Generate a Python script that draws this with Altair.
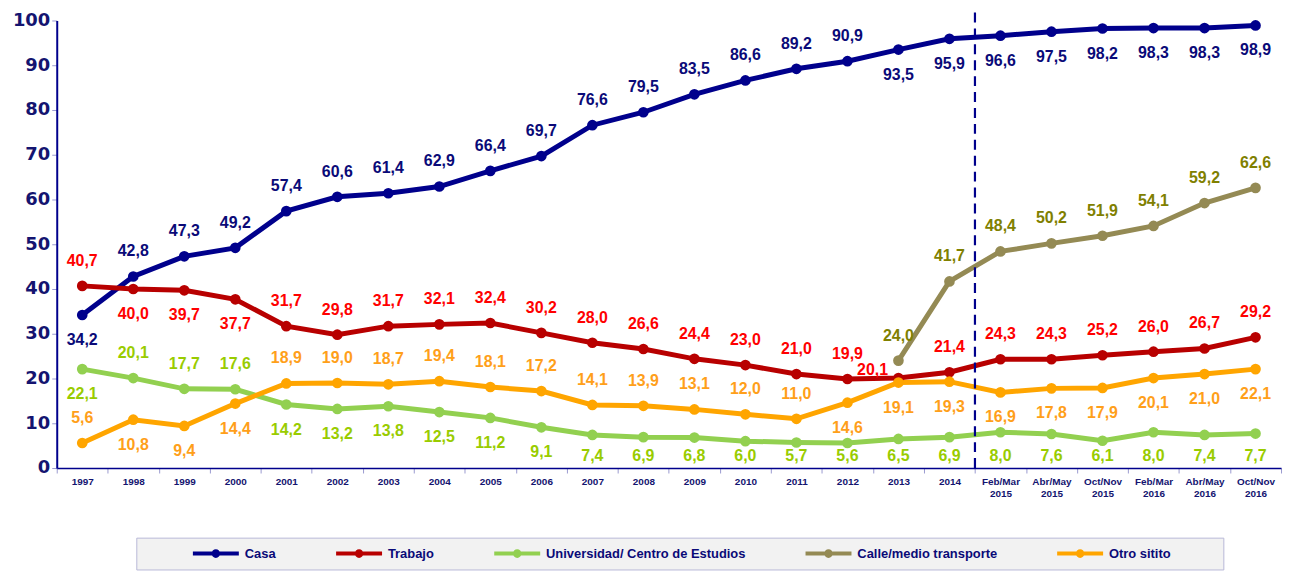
import altair as alt
import pandas as pd

categories = ["1997", "1998", "1999", "2000", "2001", "2002", "2003", "2004", "2005",
              "2006", "2007", "2008", "2009", "2010", "2011", "2012", "2013", "2014",
              "Feb/Mar 2015", "Abr/May 2015", "Oct/Nov 2015", "Feb/Mar 2016",
              "Abr/May 2016", "Oct/Nov 2016"]

casa = [34.2, 42.8, 47.3, 49.2, 57.4, 60.6, 61.4, 62.9, 66.4, 69.7, 76.6, 79.5,
        83.5, 86.6, 89.2, 90.9, 93.5, 95.9, 96.6, 97.5, 98.2, 98.3, 98.3, 98.9]
trabajo = [40.7, 40.0, 39.7, 37.7, 31.7, 29.8, 31.7, 32.1, 32.4, 30.2, 28.0, 26.6,
           24.4, 23.0, 21.0, 19.9, 20.1, 21.4, 24.3, 24.3, 25.2, 26.0, 26.7, 29.2]
universidad = [22.1, 20.1, 17.7, 17.6, 14.2, 13.2, 13.8, 12.5, 11.2, 9.1, 7.4, 6.9,
               6.8, 6.0, 5.7, 5.6, 6.5, 6.9, 8.0, 7.6, 6.1, 8.0, 7.4, 7.7]
calle = [None] * 16 + [24.0, 41.7, 48.4, 50.2, 51.9, 54.1, 59.2, 62.6]
otro = [5.6, 10.8, 9.4, 14.4, 18.9, 19.0, 18.7, 19.4, 18.1, 17.2, 14.1, 13.9,
        13.1, 12.0, 11.0, 14.6, 19.1, 19.3, 16.9, 17.8, 17.9, 20.1, 21.0, 22.1]

# label placement: a = above, b = below, l = left of point
casa_side = ["b"] + ["a"] * 15 + ["b"] * 8
trabajo_side = ["a", "b", "b", "b"] + ["a"] * 12 + ["l", "a"] + ["a"] * 6
universidad_side = ["b", "a", "a", "a"] + ["b"] * 20
calle_side = ["a"] * 24
otro_side = ["a", "b", "b", "b"] + ["a"] * 11 + ["b"] * 9

series_names = ["Casa", "Trabajo", "Universidad/ Centro de Estudios",
                "Calle/medio transporte", "Otro sitito"]
line_colors = ["#00008C", "#B80000", "#92D050", "#948A54", "#FFA500"]
label_colors = ["#0A0A78", "#FF0000", "#99CC00", "#808000", "#FF9F1A"]

rows = []
for name, vals, sides in zip(series_names,
                             [casa, trabajo, universidad, calle, otro],
                             [casa_side, trabajo_side, universidad_side, calle_side, otro_side]):
    for c, v, s in zip(categories, vals, sides):
        if v is not None:
            rows.append({"series": name, "cat": c, "value": v, "side": s})
df = pd.DataFrame(rows)

FONT = "Liberation Sans"

x_scale = alt.Scale(type="band", domain=categories, paddingInner=0, paddingOuter=0)
y_scale = alt.Scale(domain=[0, 100], nice=False)

x_enc = alt.X("cat:N", sort=categories, scale=x_scale, title=None,
              axis=alt.Axis(labelExpr="split(datum.label, ' ')", labelAngle=0,
                            labelFont=FONT, labelFontSize=10, labelFontWeight="bold",
                            labelColor="#141470", labelLineHeight=12, labelBaseline="top",
                            labelPadding=4, tickBand="extent", tickSize=5,
                            tickColor="#9A9AD0", domainColor="#00008C", domainWidth=1.5,
                            grid=False))
y_enc = alt.Y("value:Q", scale=y_scale, title=None,
              axis=alt.Axis(values=list(range(0, 101, 10)), labelFont="DejaVu Sans",
                            labelFontSize=18, labelFontWeight="bold", labelColor="#141470",
                            labelPadding=2, tickSize=5, tickColor="#9A9AD0",
                            domainColor="#00008C", domainWidth=2, grid=False))

color_scale = alt.Scale(domain=series_names, range=line_colors)
label_scale = alt.Scale(domain=series_names, range=label_colors)

# line-with-dot legend glyph (wider than its nominal size box)
legend_path = ("M-3.3,-0.29H3.3V0.29H-3.3Z "
               "M0.62,0A0.62,0.62 0 1,1 -0.62,0A0.62,0.62 0 1,1 0.62,0Z")

base = alt.Chart(df)

lines = base.mark_line(strokeWidth=5).encode(
    x=x_enc, y=y_enc,
    stroke=alt.Stroke("series:N", scale=color_scale, legend=None),
)

points = base.mark_point(filled=True, size=115, opacity=1).encode(
    x=x_enc, y=y_enc,
    color=alt.Color("series:N", scale=color_scale,
                    legend=alt.Legend(
                        title="\u00a0", titleOrient="right", titlePadding=44,
                        titleFontSize=12,
                        orient="none", legendX=80, legendY=520, direction="horizontal",
                        symbolType=legend_path, symbolSize=196, symbolStrokeWidth=0,
                        symbolOffset=64, columnPadding=12, labelOffset=22,
                        labelFont=FONT, labelFontSize=13, labelFontWeight="bold",
                        labelColor="#0A0A78", labelLimit=400, padding=9,
                        fillColor="#F2F2F2", strokeColor="#B8B8D8", cornerRadius=0)),
)

label_expr = "replace(format(datum.value, '.1f'), '.', ',')"

texts = base.transform_filter("datum.side != 'l'").transform_calculate(
    label=label_expr,
    ly="datum.side == 'a' ? datum.value + 5.6 : max(datum.value - 5.6, 2.7)",
).mark_text(font=FONT, fontSize=16, fontWeight="bold", baseline="middle").encode(
    x=x_enc,
    y=alt.Y("ly:Q", scale=y_scale, title=None),
    text="label:N",
    fill=alt.Fill("series:N", scale=label_scale, legend=None),
)

texts_left = base.transform_filter("datum.side == 'l'").transform_calculate(
    label=label_expr,
    ly="datum.value + 1.8",
).mark_text(font=FONT, fontSize=16, fontWeight="bold", baseline="middle", dx=-26).encode(
    x=x_enc,
    y=alt.Y("ly:Q", scale=y_scale, title=None),
    text="label:N",
    fill=alt.Fill("series:N", scale=label_scale, legend=None),
)

rule_df = pd.DataFrame({"cat": ["2014"]})
divider = alt.Chart(rule_df).mark_rule(strokeDash=[10, 6], strokeWidth=2.2,
                                       color="#00008C").encode(
    x=alt.X("cat:N", sort=categories, scale=x_scale, bandPosition=1, title=None),
    y=alt.datum(0, scale=y_scale),
    y2=alt.datum(104),
)

chart = alt.layer(lines, points, texts, texts_left, divider).properties(
    width=1231, height=450,
    autosize=alt.AutoSizeParams(type="none"),
    padding={"left": 49, "top": 11, "right": 5, "bottom": 104},
).resolve_scale(color="independent", stroke="independent", fill="independent"
).configure_view(stroke=None)

chart.save("out.html", embed_options={"renderer": "svg", "actions": False})
